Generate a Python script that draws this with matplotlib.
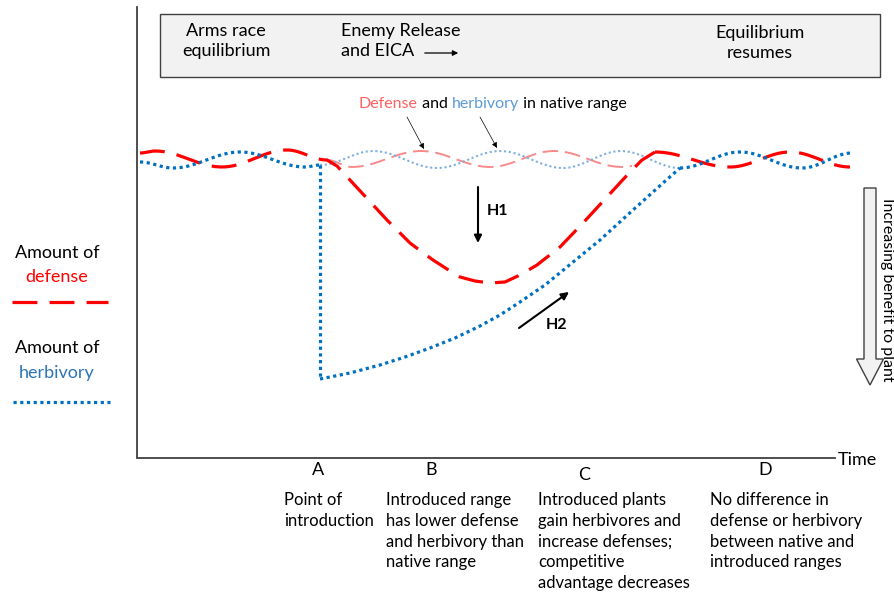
import numpy as np
import matplotlib.pyplot as plt
from matplotlib.patches import Rectangle, FancyArrow

plt.rcParams['font.family'] = ['Lato', 'DejaVu Sans']

# 그림 좌표는 픽셀 기준 (x: 0~895, y: 0~596, 위에서 아래로)
# 파동의 극값(마루/골) 위치 - 그림에서 읽은 값
red_left_ext = [(140, 153), (155, 151), (222, 167), (287, 150), (327, 160)]
red_native_ext = [(327, 160), (352, 167), (421, 151), (490, 167), (554, 151), (622, 167), (632, 166)]
red_right_ext = [(655, 152), (730, 167), (790, 152), (850, 167)]
blue_left_ext = [(140, 162), (173, 168), (240, 152), (305, 167), (320, 165)]
blue_native_ext = [(320, 165), (373, 151), (437, 168), (500, 151), (563, 168), (621, 151), (680, 168)]
blue_right_ext = [(680, 168), (740, 152), (802, 168), (852, 153)]

# 도입 이후 방어(빨강) 감소/회복 곡선
red_dip_x = [325, 337, 350, 362, 375, 387, 399, 410, 422, 433, 447, 460, 475, 490, 505, 520, 537, 560, 583, 607, 630, 642, 655]
red_dip_y = [160, 166, 180, 193, 207, 220, 232, 243, 252, 260, 269, 277, 281, 283, 282, 275, 265, 247, 223, 197, 172, 160, 152]

# 도입 이후 초식(파랑) 곡선
blue_drop_x = [320, 320]
blue_drop_y = [165, 379]
blue_rise_x = [320, 350, 380, 405, 430, 455, 480, 500, 520, 545, 567, 600, 633, 663, 680]
blue_rise_y = [379, 373, 365, 357, 348, 338, 326, 315, 302, 285, 267, 240, 210, 183, 168]

stage_labels = ['A', 'B', 'C', 'D']
stage_x = [318, 431, 584, 765]
stage_y = [470, 470, 475, 470]
stage_text = ['Point of\nintroduction',
              'Introduced range\nhas lower defense\nand herbivory than\nnative range',
              'Introduced plants\ngain herbivores and\nincrease defenses;\ncompetitive\nadvantage decreases',
              'No difference in\ndefense or herbivory\nbetween native and\nintroduced ranges']
stage_text_x = [284, 386, 538, 710]

RED = '#ff0000'
BLUE = '#0070c0'
LRED = '#f88a8a'
LBLUE = '#7fb0e0'
GRAY = '#404040'


def wave(ext):
    """극값 사이를 반코사인으로 연결"""
    xs, ys = [], []
    for (x0, y0), (x1, y1) in zip(ext[:-1], ext[1:]):
        t = np.linspace(0, 1, 30)
        xs.extend(x0 + (x1 - x0) * t)
        ys.extend(y0 + (y1 - y0) * (1 - np.cos(np.pi * t)) / 2)
    return xs, ys


fig = plt.figure(figsize=(8.95, 5.96), dpi=100)
ax = fig.add_axes([0, 0, 1, 1])
ax.set_xlim(0, 895)
ax.set_ylim(596, 0)
ax.axis('off')

# 축
ax.plot([137, 137, 835], [7, 458, 458], color=GRAY, lw=1.3, solid_joinstyle='miter')
ax.text(838, 460, 'Time', fontsize=13, va='center', ha='left')

# 상단 박스
ax.add_patch(Rectangle((160, 14), 720, 63, facecolor='#f2f2f2', edgecolor=GRAY, lw=1))
ax.text(226, 41, 'Arms race\nequilibrium', fontsize=13, ha='center', va='center', linespacing=1.35)
ax.text(341, 41, 'Enemy Release\nand EICA', fontsize=13, ha='left', va='center', linespacing=1.35)
ax.annotate('', xy=(461, 53), xytext=(422, 53),
            arrowprops=dict(arrowstyle='-|>', color='black', lw=0.9, mutation_scale=8))
ax.text(760, 43, 'Equilibrium\nresumes', fontsize=13, ha='center', va='center', linespacing=1.35)

# 원산지 범위 (연한 선)
x, y = wave(red_native_ext)
ax.plot(x, y, color=LRED, lw=1.4, dashes=(8, 3.5), dash_capstyle='butt')
x, y = wave(blue_native_ext)
ax.plot(x, y, color=LBLUE, lw=1.5, dashes=(1, 1.3), dash_capstyle='butt')

# 방어 (빨강 점선)
dash_red = dict(color=RED, lw=2.3, dashes=(7.8, 3.8), dash_capstyle='butt')
dot_blue = dict(color=BLUE, lw=2.3, dashes=(1, 1.1), dash_capstyle='butt')

xl, yl = wave(red_left_ext)
ax.plot(list(xl) + red_dip_x[1:], list(yl) + red_dip_y[1:], **dash_red)
x, y = wave(red_right_ext)
ax.plot(x, y, **dash_red)

# 초식 (파랑 점)
xl, yl = wave(blue_left_ext)
ax.plot(xl, yl, **dot_blue)
ax.plot(blue_drop_x, blue_drop_y, **dot_blue)
ax.plot(blue_rise_x, blue_rise_y, **dot_blue)
x, y = wave(blue_right_ext)
ax.plot(x, y, **dot_blue)

# 원산지 범위 설명
fig.canvas.draw()
r = fig.canvas.get_renderer()
xpos = 359
for s, c in [('Defense', '#ff6060'), (' and ', 'black'), ('herbivory', '#5b9bd5'), (' in native range', 'black')]:
    t = ax.text(xpos, 104, s, fontsize=11.5, color=c, ha='left', va='center')
    bb = t.get_window_extent(renderer=r)
    xpos += bb.width
for (x0, y0), (x1, y1) in [((407, 117), (424, 149)), ((480, 117), (497, 148))]:
    ax.annotate('', xy=(x1, y1), xytext=(x0, y0),
                arrowprops=dict(arrowstyle='-|>', color='black', lw=0.5, mutation_scale=8,
                                shrinkA=0, shrinkB=0))

# 가설 화살표
ax.annotate('', xy=(478, 243), xytext=(478, 187),
            arrowprops=dict(arrowstyle='-|>', color='black', lw=1.5, mutation_scale=11,
                            shrinkA=0, shrinkB=0))
ax.text(487, 211, 'H1', fontsize=11.5, fontweight='bold', va='center')
ax.annotate('', xy=(569, 292), xytext=(519, 328),
            arrowprops=dict(arrowstyle='-|>', color='black', lw=1.5, mutation_scale=11,
                            shrinkA=0, shrinkB=0))
ax.text(546, 325, 'H2', fontsize=11.5, fontweight='bold', va='center')

# 오른쪽 큰 화살표
ax.add_patch(FancyArrow(870, 188, 0, 197, width=12, head_width=27, head_length=26,
                        length_includes_head=True, facecolor='#f2f2f2', edgecolor=GRAY, lw=1))
ax.text(887, 290, 'Increasing benefit to plant', fontsize=11.5, rotation=-90,
        ha='center', va='center')

# 왼쪽 범례
ax.text(57, 253, 'Amount of', fontsize=13, ha='center', va='center')
ax.text(57, 277, 'defense', fontsize=13, ha='center', va='center', color=RED)
ax.plot([12, 108], [302, 302], **dash_red)
ax.text(57, 348, 'Amount of', fontsize=13, ha='center', va='center')
ax.text(57, 373, 'herbivory', fontsize=13, ha='center', va='center', color='#2e75b6')
ax.plot([13, 110], [402, 402], **dot_blue)

# 단계 라벨
for lab, sx, sy in zip(stage_labels, stage_x, stage_y):
    ax.text(sx, sy, lab, fontsize=13, ha='center', va='center')
for s, tx in zip(stage_text, stage_text_x):
    ax.text(tx, 492, s, fontsize=12, ha='left', va='top', linespacing=1.37)

fig.savefig('out.png', dpi=100)
